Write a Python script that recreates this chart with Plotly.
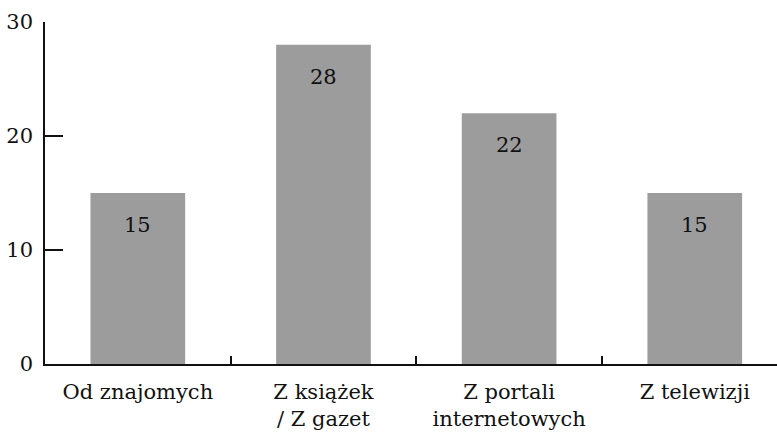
import plotly.graph_objects as go

# Source of information and number of answers
categories = ["Od znajomych", "Z książek<br>/ Z gazet", "Z portali<br>internetowych", "Z telewizji"]
values = [15, 28, 22, 15]
y_ticks = [0, 10, 20, 30]

FONT = "DejaVu Serif"
BAR_COLOR = "#9c9c9c"
TEXT_COLOR = "#111111"

fig = go.Figure()
fig.add_trace(go.Bar(
    x=categories,
    y=values,
    marker=dict(color=BAR_COLOR, line=dict(width=0)),
    width=0.51,
    hoverinfo="skip",
))

# Value labels placed just under the top of each bar
for cat, val in zip(categories, values):
    fig.add_annotation(
        x=cat, y=val, text=str(val), showarrow=False,
        yshift=-32, font=dict(family=FONT, size=21, color=TEXT_COLOR),
    )

fig.update_layout(
    width=777, height=434,
    margin=dict(l=45, r=0, t=22, b=70),
    paper_bgcolor="white", plot_bgcolor="white",
    showlegend=False,
    font=dict(family=FONT, size=21, color=TEXT_COLOR),
    xaxis=dict(
        range=[-0.5, 3.443],
        showline=True, linecolor=TEXT_COLOR, linewidth=1.5,
        ticks="inside", tickson="boundaries", ticklen=8, tickcolor=TEXT_COLOR, tickwidth=1.5,
        showgrid=False, zeroline=False,
        ticklabelstandoff=8,
        tickfont=dict(family=FONT, size=21, color=TEXT_COLOR),
    ),
    yaxis=dict(
        range=[0, 30],
        tickvals=y_ticks,
        showline=True, linecolor=TEXT_COLOR, linewidth=1.5,
        ticks="inside", ticklen=18, tickcolor=TEXT_COLOR, tickwidth=1.5,
        showgrid=False, zeroline=False,
        ticklabelstandoff=6,
        tickfont=dict(family=FONT, size=21, color=TEXT_COLOR),
    ),
)

fig.write_html("out.html")
